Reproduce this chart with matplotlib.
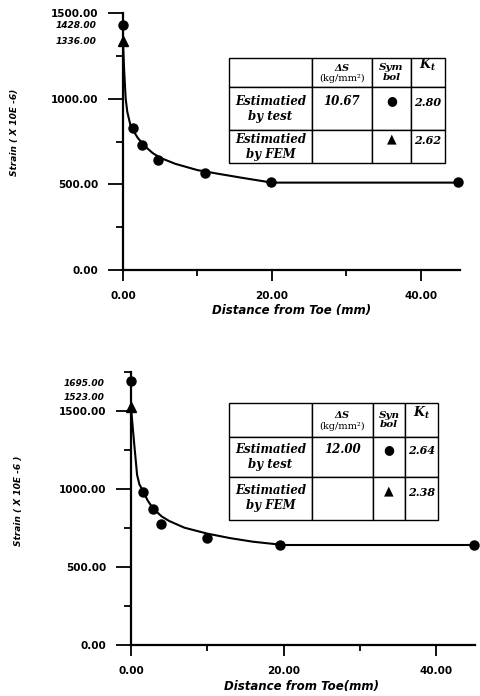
import numpy as np
import matplotlib.pyplot as plt

plt.rcParams['mathtext.fontset'] = 'dejavuserif'

# upper specimen: strain (x10^-6) against distance from the weld toe (mm)
top_test_x = [0.0, 1.3, 2.6, 4.7, 11.0, 19.9, 45.0]
top_test_y = [1428, 829, 729, 641, 565, 512, 512]
top_fem_x = [0.0]
top_fem_y = [1336]
top_fit_x = [0.0, 0.15, 0.36, 0.58, 1.0, 1.5, 2.0, 3.0, 4.0, 5.0, 7.0, 10.0, 13.0, 16.0, 20.0, 45.0]
top_fit_y = [1336, 1170, 1000, 922, 845, 805, 770, 720, 682, 655, 620, 583, 560, 538, 510, 510]
top_peaks = [1428, 1336]
top_ds = ["10.67", ""]
top_kt = ["2.80", "2.62"]
top_sym_head = "Sym\nbol"

# lower specimen
bot_test_x = [0.0, 1.6, 2.9, 3.9, 9.9, 19.6, 45.0]
bot_test_y = [1695, 981, 872, 776, 686, 641, 641]
bot_fem_x = [0.0]
bot_fem_y = [1523]
bot_fit_x = [0.0, 0.4, 0.8, 1.1, 1.6, 2.2, 2.9, 4.0, 5.0, 7.0, 10.0, 13.0, 16.0, 20.0, 45.0]
bot_fit_y = [1523, 1300, 1090, 1030, 985, 925, 875, 825, 795, 752, 714, 685, 662, 641, 641]
bot_peaks = [1695, 1523]
bot_ds = ["12.00", ""]
bot_kt = ["2.64", "2.38"]
bot_sym_head = "Syn\nbol"

row_names = ["Estimatied\nby test", "Estimatied\nby FEM"]
symbols = ["\u25cf", "\u25b2"]


def draw_table(ax, ds, kt, sym_head, bbox, col_w, row_h):
    header = ["", "$\\mathbfit{\\Delta S}$\n(kg/mm\u00b2)", sym_head, "$\\mathbfit{K_t}$\n "]
    body = [header]
    for name, d, s, k in zip(row_names, ds, symbols, kt):
        body.append([name, d + "\n ", s + "\n ", k + "\n "])
    tab = ax.table(cellText=body, colWidths=col_w, bbox=bbox, cellLoc='center')
    tab.auto_set_font_size(False)
    for (r, c), cell in tab.get_celld().items():
        cell.set_height(row_h[r])
        cell.set_linewidth(1.0)
        cell.set_edgecolor('black')
        txt = cell.get_text()
        txt.set_fontsize(8.5)
        txt.set_fontfamily('DejaVu Serif')
        if r == 0 and c == 1:
            txt.set_fontsize(7)
        elif c == 2 and r > 0:
            txt.set_fontfamily('DejaVu Sans')
            txt.set_fontsize(9)
        else:
            txt.set_fontweight('bold')
            txt.set_fontstyle('italic')
        if r == 0 and c == 2:
            txt.set_fontsize(7.5)
            txt.set_linespacing(1.1)
        if r == 0 and c == 3:
            txt.set_fontsize(9)
        if c == 3 and r > 0:
            txt.set_fontsize(8)
    return tab


def draw_panel(ax, tx, ty, fx, fy, cx, cy, peaks, ylim, yminor, xmax,
               xlabel, ylabel, peak_offsets):
    ax.plot(cx, cy, color='black', lw=1.5, zorder=2)
    ax.plot(tx, ty, 'o', color='black', ms=6.5, clip_on=False, zorder=3)
    ax.plot(fx, fy, '^', color='black', ms=6.5, clip_on=False, zorder=3)

    ax.set_xlim(0, xmax)
    ax.set_ylim(*ylim)
    ax.set_xticks([0, 20, 40])
    ax.set_xticks([10, 30], minor=True)
    ax.set_yticks([0, 500, 1000, 1500])
    ax.set_yticks(yminor, minor=True)
    ax.set_xticklabels([f"{v:.2f}" for v in [0, 20, 40]])
    ax.set_yticklabels([f"{v:.2f}" for v in [0, 500, 1000, 1500]])
    for lab in ax.get_xticklabels() + ax.get_yticklabels():
        lab.set_fontweight('bold')
        lab.set_fontsize(7.5)

    ax.tick_params(axis='y', which='major', length=11, width=1.3, pad=7)
    ax.tick_params(axis='y', which='minor', length=5, width=1.3)
    ax.tick_params(axis='x', which='major', length=8, width=1.3, pad=7)
    ax.tick_params(axis='x', which='minor', length=4, width=1.3)
    for side in ['top', 'right']:
        ax.spines[side].set_visible(False)
    for side in ['left', 'bottom']:
        ax.spines[side].set_linewidth(1.6)

    for val, off in zip(peaks, peak_offsets):
        ax.annotate(f"{val:.2f}", xy=(0, val), xycoords=('axes fraction', 'data'),
                    xytext=(-19, off), textcoords='offset points',
                    ha='right', va='center', fontsize=6.5,
                    fontweight='bold', fontstyle='italic')

    ax.set_xlabel(xlabel, fontsize=8.5, fontweight='bold', fontstyle='italic')
    ax.set_ylabel(ylabel, fontsize=6.5, fontweight='bold', fontstyle='italic')


fig = plt.figure(figsize=(4.8, 6.96), dpi=100)

ax1 = fig.add_axes([123 / 480, 1 - 270 / 696, 337 / 480, 257 / 696])
draw_panel(ax1, top_test_x, top_test_y, top_fem_x, top_fem_y, top_fit_x, top_fit_y,
           top_peaks, (0, 1500), [250, 750, 1250], 45.25,
           "Distance from Toe (mm)", "Strain ( X 10E -6)", [0, 0])
ax1.xaxis.set_label_coords(0.5, -0.132)
ax1.yaxis.set_label_coords(-0.31, 0.537)
draw_table(ax1, top_ds, top_kt, top_sym_head,
           [(229 - 123) / 337, (270 - 163) / 257, 216 / 337, 105 / 257],
           [83, 60, 39, 34], [29, 43, 33])

ax2 = fig.add_axes([131 / 480, 1 - 645 / 696, 344 / 480, 273 / 696])
draw_panel(ax2, bot_test_x, bot_test_y, bot_fem_x, bot_fem_y, bot_fit_x, bot_fit_y,
           bot_peaks, (0, 1750), [250, 750, 1250, 1750], 45.1,
           "Distance from Toe(mm)", "Strain ( X 10E -6 )", [-2, 7])
ax2.xaxis.set_label_coords(0.497, -0.128)
ax2.yaxis.set_label_coords(-0.315, 0.527)
draw_table(ax2, bot_ds, bot_kt, bot_sym_head,
           [(229 - 131) / 344, (645 - 520) / 273, 209 / 344, 117 / 273],
           [83, 61, 32, 33], [34, 40, 43])

fig.savefig("out.png", dpi=100)
